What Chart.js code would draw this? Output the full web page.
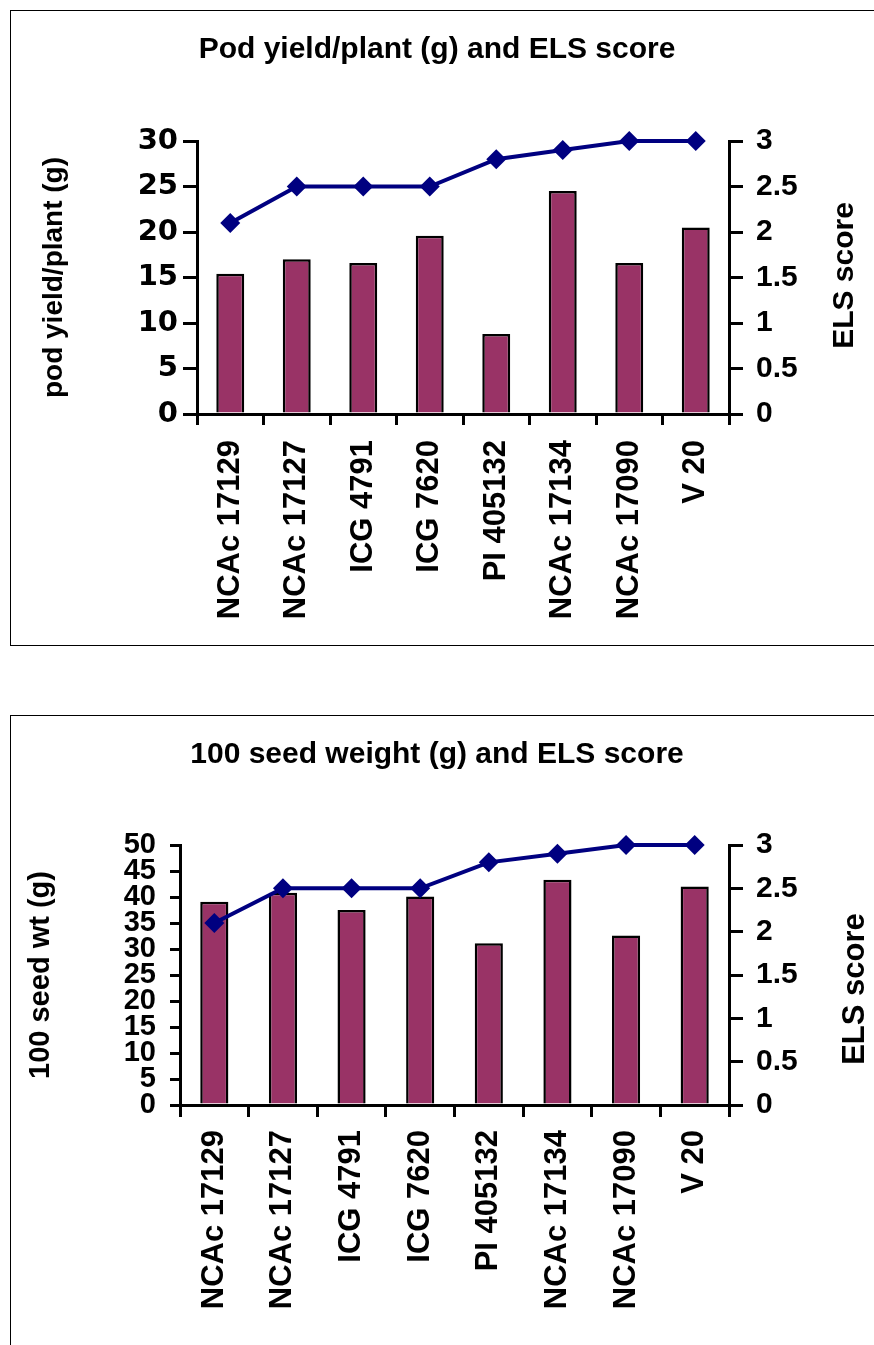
<!DOCTYPE html>
<html>
<head>
<meta charset="utf-8">
<script src="https://cdn.jsdelivr.net/npm/chart.js@4"></script>
<style>
  body { margin: 0; background: #fff; }
  .box { position: absolute; border: 1.5px solid #000; border-right: none; pointer-events: none; }
  canvas { position: absolute; left: 0; }
</style>
</head>
<body>
<div class="box" style="left:10px; top:10px; width:870px; height:634px;"></div>
<div class="box" style="left:10px; top:715px; width:870px; height:700px;"></div>
<canvas id="podChart" width="874" height="645" style="top:0px;"></canvas>
<canvas id="seedChart" width="874" height="630" style="top:715px;"></canvas>

<script>
// genotypes
const genotypes = ["NCAc 17129", "NCAc 17127", "ICG 4791", "ICG 7620", "PI 405132", "NCAc 17134", "NCAc 17090", "V 20"];
// pod yield per plant (g)
const podYield = [15.4, 17.0, 16.6, 19.6, 8.8, 24.5, 16.6, 20.5];
// 100 seed weight (g)
const seedWeight = [39.1, 40.8, 37.5, 40.1, 31.1, 43.3, 32.6, 42.0];
// early leaf spot score
const elsScore = [2.1, 2.5, 2.5, 2.5, 2.8, 2.9, 3.0, 3.0];

const ARIAL = "'Liberation Sans', Arial, sans-serif";
const WIDE = "'DejaVu Sans', sans-serif";

Chart.defaults.color = "#000";
Chart.defaults.animation = false;

// draws the right-hand axis title reading bottom to top
const rightTitle = {
  id: "rightTitle",
  afterDraw(chart, args, opts) {
    const s = chart.scales.y1;
    const area = chart.chartArea;
    const ctx = chart.ctx;
    ctx.save();
    ctx.font = "bold " + opts.size + "px " + ARIAL;
    ctx.fillStyle = "#000";
    ctx.textAlign = "center";
    ctx.textBaseline = "middle";
    ctx.translate(s.right - opts.dx, (area.top + area.bottom) / 2 + opts.dy);
    ctx.rotate(-Math.PI / 2);
    ctx.fillText(opts.text, 0, 0);
    ctx.restore();
  }
};

function makeChart(id, s) {
  const ctx = document.getElementById(id).getContext("2d");
  return new Chart(ctx, {
    type: "bar",
    data: {
      labels: genotypes,
      datasets: [
        {
          type: "line",
          label: "ELS score",
          data: elsScore,
          yAxisID: "y1",
          borderColor: "#000080",
          backgroundColor: "#000080",
          borderWidth: 4,
          pointStyle: "rectRot",
          pointRadius: 10,
          pointBorderWidth: 0,
          tension: 0,
          clip: false,
          order: 0
        },
        {
          label: s.barLabel,
          data: s.barData,
          yAxisID: "y",
          backgroundColor: "#993366",
          borderColor: "#000",
          borderWidth: 2.5,
          categoryPercentage: 1,
          barPercentage: s.barPct,
          order: 1
        }
      ]
    },
    options: {
      responsive: false,
      layout: { padding: 0 },
      plugins: {
        legend: { display: false },
        tooltip: { enabled: false },
        title: {
          display: true,
          text: s.title,
          font: { family: ARIAL, size: 30, weight: "bold", lineHeight: 1.2 },
          padding: { top: s.titleTop, bottom: s.areaTop - s.titleTop - 36 }
        },
        rightTitle: { text: "ELS score", size: s.rSize, dx: s.rDx, dy: s.rDy }
      },
      scales: {
        x: {
          offset: true,
          border: { color: "#000", width: 3 },
          grid: { offset: true, drawOnChartArea: false, color: "#000", lineWidth: 3, tickLength: s.xTick },
          ticks: {
            autoSkip: false,
            minRotation: 90,
            maxRotation: 90,
            padding: s.xPad,
            font: { family: ARIAL, size: 31, weight: "bold" }
          },
          afterFit: function (scale) { scale.height = s.canvasH - s.areaBottom; }
        },
        y: {
          position: "left",
          min: 0,
          max: s.yMax,
          border: { color: "#000", width: 3 },
          grid: { drawOnChartArea: false, color: "#000", lineWidth: 3, tickLength: s.yTick },
          ticks: {
            stepSize: 5,
            autoSkip: false,
            padding: s.yPad,
            font: { family: s.yFont, size: s.ySize, weight: "bold", lineHeight: 1 }
          },
          title: {
            display: true,
            text: s.yTitle,
            font: { family: ARIAL, size: s.yTitleSize, weight: "bold", lineHeight: 1 },
            padding: { top: s.yTitleX - s.yTitleSize / 2, bottom: 0 }
          },
          afterFit: function (scale) { scale.width = s.areaLeft; }
        },
        y1: {
          position: "right",
          min: 0,
          max: 3,
          border: { color: "#000", width: 3 },
          grid: { drawOnChartArea: false, color: "#000", lineWidth: 3, tickLength: 14 },
          ticks: {
            stepSize: 0.5,
            autoSkip: false,
            padding: 13,
            callback: function (v) { return String(v); },
            font: { family: ARIAL, size: 30, weight: "bold", lineHeight: 1 }
          },
          afterFit: function (scale) { scale.width = 874 - s.areaRight; }
        }
      }
    },
    plugins: [rightTitle]
  });
}

makeChart("podChart", {
  title: "Pod yield/plant (g) and ELS score",
  barLabel: "pod yield/plant (g)",
  barData: podYield,
  barPct: 0.42,
  canvasH: 645,
  areaLeft: 197, areaRight: 729, areaTop: 141, areaBottom: 414,
  titleTop: 32,
  yMax: 30, yFont: WIDE, ySize: 29, yTick: 14, yPad: 5,
  yTitle: "pod yield/plant (g)", yTitleSize: 28, yTitleX: 54,
  xTick: 11, xPad: 15,
  rSize: 30, rDx: 29, rDy: -2
});

makeChart("seedChart", {
  title: "100 seed weight (g) and ELS score",
  barLabel: "100 seed wt (g)",
  barData: seedWeight,
  barPct: 0.41,
  canvasH: 630,
  areaLeft: 180, areaRight: 729, areaTop: 130, areaBottom: 390,
  titleTop: 22,
  yMax: 50, yFont: ARIAL, ySize: 29, yTick: 10, yPad: 14,
  yTitle: "100 seed wt (g)", yTitleSize: 29, yTitleX: 41,
  xTick: 12, xPad: 13,
  rSize: 31, rDx: 19, rDy: 14
});
</script>
</body>
</html>
